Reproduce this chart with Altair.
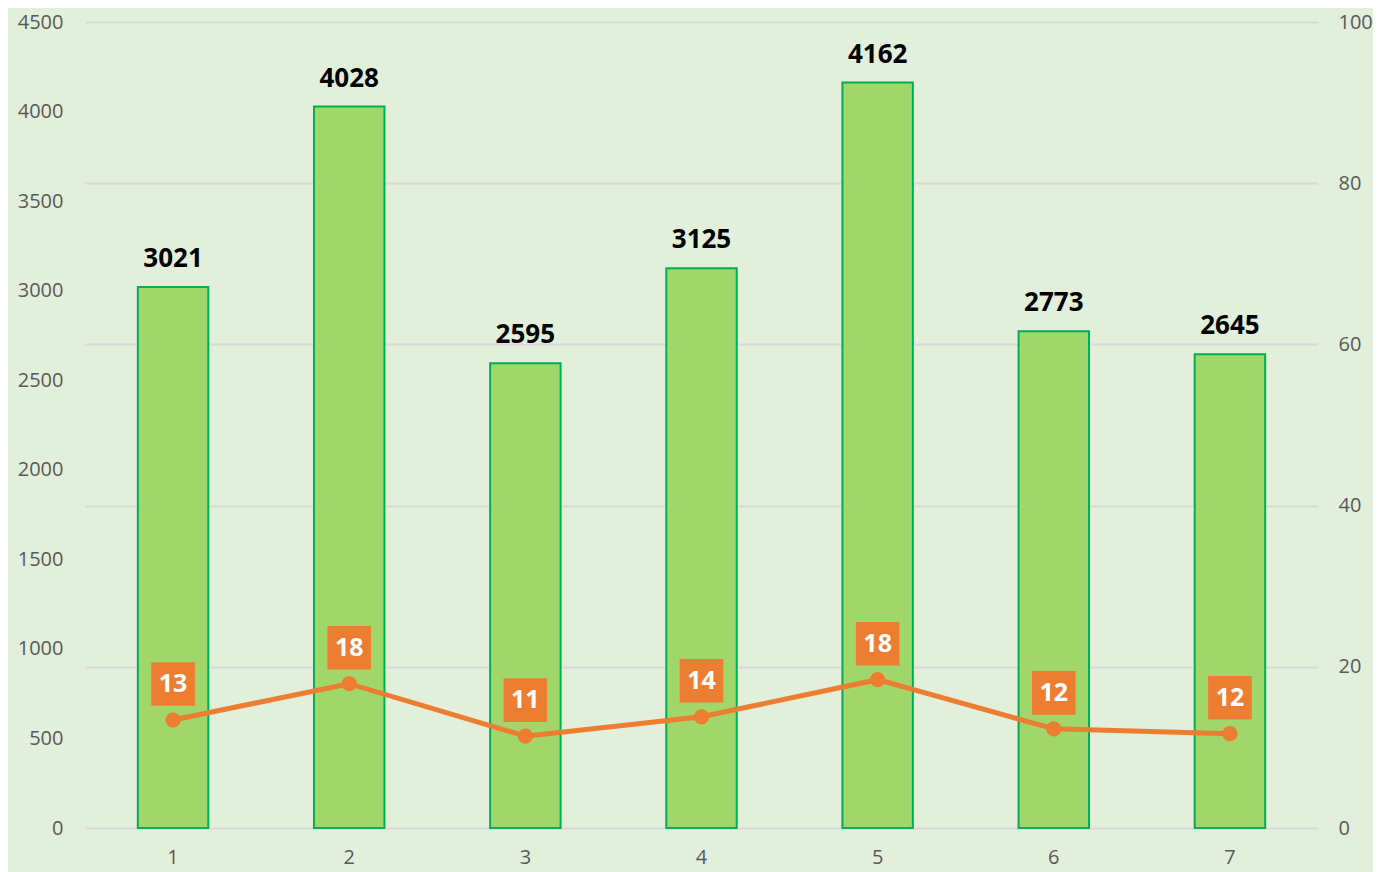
import altair as alt
import pandas as pd

categories = ["1", "2", "3", "4", "5", "6", "7"]
bar_values = [3021, 4028, 2595, 3125, 4162, 2773, 2645]
line_values = [13.4, 17.9, 11.4, 13.8, 18.4, 12.3, 11.7]

df = pd.DataFrame({"cat": categories, "bar": bar_values, "line": line_values})

FONT = "Open Sans"
BG = "#E2EFDA"
ORANGE = "#ED7D31"

x = alt.X("cat:N", sort=categories,
          scale=alt.Scale(paddingInner=0.6, paddingOuter=0.3),
          axis=alt.Axis(title=None, labelAngle=0, ticks=False, domain=False,
                        labelFontSize=20, labelColor="#595959", labelFont=FONT,
                        labelPadding=19, grid=False))

yl = alt.Y("bar:Q", scale=alt.Scale(domain=[0, 4500], nice=False),
           axis=alt.Axis(title=None, values=list(range(0, 4501, 500)), grid=False,
                         format="d", ticks=False, domain=False, labelFontSize=20,
                         labelColor="#595959", labelFont=FONT, labelPadding=22))

yr = alt.Y("line:Q", scale=alt.Scale(domain=[0, 100], nice=False),
           axis=alt.Axis(title=None, orient="right", values=[0, 20, 40, 60, 80, 100],
                         grid=True, gridColor="#D9D9D9", gridWidth=2, format="d",
                         ticks=False, domain=False, labelFontSize=20,
                         labelColor="#595959", labelFont=FONT, labelPadding=20))

base = alt.Chart(df)

bars = base.mark_bar(color="#A0D66A", stroke="#00B050", strokeWidth=2).encode(x=x, y=yl)
bar_text = base.mark_text(font=FONT, fontSize=26, fontWeight="bold", color="#000000",
                          baseline="middle", dy=-28).encode(x=x, y=yl, text=alt.Text("bar:Q", format="d"))
bar_layer = alt.layer(bars, bar_text)

line = base.mark_line(color=ORANGE, strokeWidth=5).encode(x=x, y=yr)
pts = base.mark_point(filled=True, color=ORANGE, size=230, opacity=1).encode(x=x, y=yr)
boxes = base.mark_point(shape="square", filled=True, color=ORANGE, size=1900, opacity=1,
                        yOffset=-36).encode(x=x, y=yr)
box_text = base.mark_text(font=FONT, fontSize=25, fontWeight="bold", color="white",
                          baseline="middle", yOffset=-36).encode(
    x=x, y=yr, text=alt.Text("line:Q", format=".0f"))
line_layer = alt.layer(line, pts, boxes, box_text)

chart = alt.layer(bar_layer, line_layer).resolve_scale(y="independent").properties(
    width=1233, height=806,
    autosize=alt.AutoSizeParams(type="none"),
    padding={"left": 77, "top": 14, "right": 55, "bottom": 44},
    background=BG,
).configure_view(stroke=None, fill=BG)

chart.save("out.html", embed_options={"renderer": "svg", "actions": False})
